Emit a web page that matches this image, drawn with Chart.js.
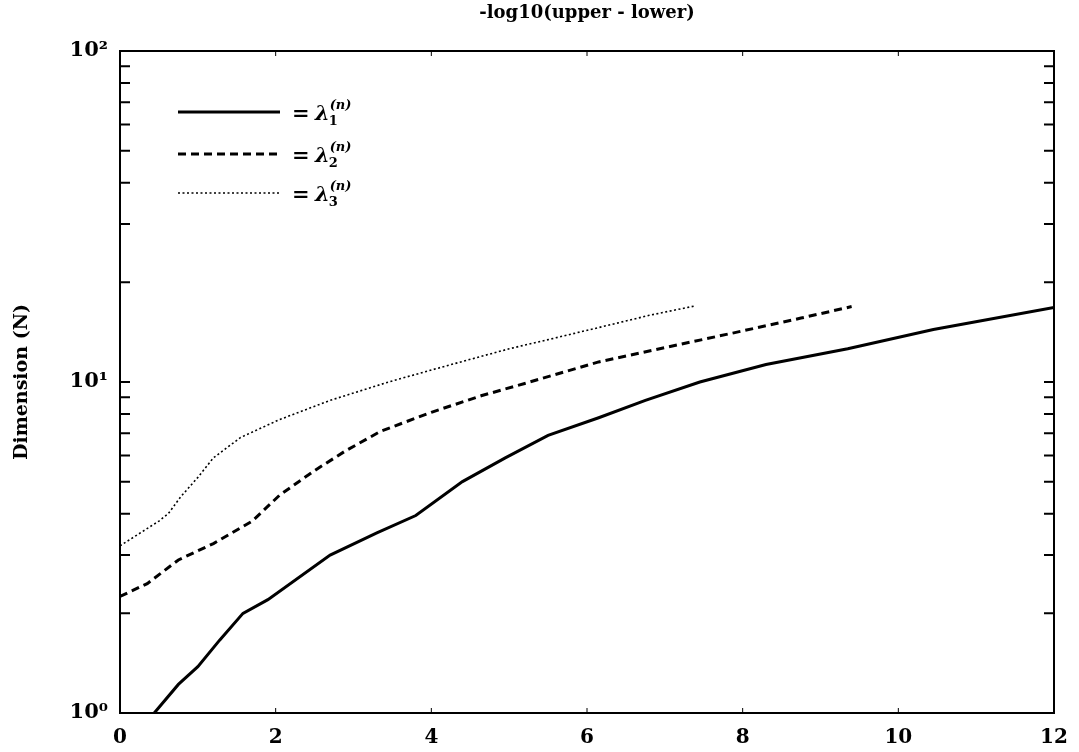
<!DOCTYPE html>
<html>
<head>
<meta charset="utf-8">
<script src="https://cdn.jsdelivr.net/npm/chart.js@4.4.1/dist/chart.umd.min.js"></script>
<style>
  html, body { margin: 0; padding: 0; background: #fff; }
  #wrap { width: 1079px; height: 752px; }
</style>
</head>
<body>
<div id="wrap"><canvas id="c" width="1079" height="752"></canvas></div>
<script>
// ---- data ----
const lambda1X = [0.44, 0.75, 1.0, 1.28, 1.58, 1.9, 2.7, 3.3, 3.8, 4.4, 4.95, 5.5, 6.15, 6.75, 7.45, 8.3, 9.35, 10.45, 12.0];
const lambda1Y = [1.0, 1.22, 1.38, 1.66, 2.0, 2.2, 3.0, 3.5, 3.95, 5.0, 5.9, 6.9, 7.8, 8.8, 10.0, 11.3, 12.6, 14.4, 16.8];

const lambda2X = [0, 0.35, 0.75, 1.2, 1.7, 2.05, 2.5, 2.9, 3.35, 4.0, 4.65, 5.2, 6.15, 7.0, 7.9, 8.75, 9.4];
const lambda2Y = [2.25, 2.46, 2.9, 3.25, 3.8, 4.55, 5.4, 6.2, 7.1, 8.1, 9.1, 9.9, 11.5, 12.7, 14.1, 15.6, 16.9];

const lambda3X = [0, 0.5, 0.62, 0.78, 1.0, 1.2, 1.55, 2.05, 2.7, 3.45, 4.2, 5.0, 5.6, 6.2, 6.8, 7.4];
const lambda3Y = [3.2, 3.8, 4.0, 4.5, 5.15, 5.9, 6.8, 7.7, 8.8, 10.0, 11.2, 12.6, 13.6, 14.7, 15.9, 17.0];

const seriesSubscripts = ['1', '2', '3'];
const xTickValues = [0, 2, 4, 6, 8, 10, 12];
const yTickValues = [1, 10, 100];
const yTickLabels = ['10\u2070', '10\u00B9', '10\u00B2'];
const titleText = '-log10(upper - lower)';
const yTitleText = 'Dimension (N)';

function pts(xs, ys) { return xs.map((x, i) => ({ x: x, y: ys[i] })); }

const FONT = "'DejaVu Serif', serif";

const framePlugin = {
  id: 'frame',
  afterDatasetsDraw(chart) {
    const ctx = chart.ctx;
    const a = chart.chartArea;
    const xs = chart.scales.x, ys = chart.scales.y;
    ctx.save();
    ctx.strokeStyle = '#000';
    // frame
    ctx.lineWidth = 2;
    ctx.strokeRect(a.left, a.top, a.right - a.left, a.bottom - a.top);
    // y ticks (major + minor), inward, both sides
    ctx.lineWidth = 2;
    for (let d = 1; d < 100; d *= 10) {
      for (let m = 1; m <= 9; m++) {
        const v = d * m;
        if (v === 1) continue;
        const py = ys.getPixelForValue(v);
        ctx.beginPath();
        ctx.moveTo(a.left, py); ctx.lineTo(a.left + 10, py);
        ctx.moveTo(a.right, py); ctx.lineTo(a.right - 10, py);
        ctx.stroke();
      }
    }
    // x ticks inward top/bottom
    ctx.lineWidth = 1;
    xTickValues.forEach(v => {
      if (v === xs.min || v === xs.max) return;
      const px = xs.getPixelForValue(v);
      ctx.beginPath();
      ctx.moveTo(px, a.bottom); ctx.lineTo(px, a.bottom - 5);
      ctx.moveTo(px, a.top); ctx.lineTo(px, a.top + 5);
      ctx.stroke();
    });
    // legend
    const lx0 = a.left + 58, lx1 = a.left + 160;
    const rows = [a.top + 61, a.top + 103, a.top + 142];
    chart.data.datasets.forEach((ds, i) => {
      const y = rows[i];
      ctx.save();
      ctx.lineWidth = ds.borderWidth;
      ctx.setLineDash(ds.borderDash || []);
      ctx.beginPath();
      ctx.moveTo(lx0, y); ctx.lineTo(lx1, y);
      ctx.stroke();
      ctx.restore();
      ctx.fillStyle = '#000';
      ctx.textBaseline = 'alphabetic';
      ctx.textAlign = 'left';
      ctx.font = "bold 21px " + FONT;
      let tx = lx1 + 12;
      const base = y + 8;
      ctx.fillText('=', tx, base);
      tx += ctx.measureText('= ').width - 2;
      ctx.font = "italic bold 21px " + FONT;
      ctx.fillText('\u03BB', tx, base);
      tx += ctx.measureText('\u03BB').width;
      ctx.font = "bold 13px " + FONT;
      ctx.fillText(seriesSubscripts[i], tx - 1, base + 5);
      ctx.font = "italic bold 13px " + FONT;
      ctx.fillText('(n)', tx, base - 11);
    });
    ctx.restore();
  }
};

new Chart(document.getElementById('c'), {
  type: 'line',
  data: {
    datasets: [
      { label: '\u03BB1(n)', data: pts(lambda1X, lambda1Y), borderColor: '#000', borderWidth: 3, pointRadius: 0, tension: 0, fill: false },
      { label: '\u03BB2(n)', data: pts(lambda2X, lambda2Y), borderColor: '#000', borderWidth: 3, borderDash: [8, 5], pointRadius: 0, tension: 0, fill: false },
      { label: '\u03BB3(n)', data: pts(lambda3X, lambda3Y), borderColor: '#000', borderWidth: 1.6, borderDash: [2, 2.5], pointRadius: 0, tension: 0, fill: false }
    ]
  },
  options: {
    responsive: false,
    animation: false,
    events: [],
    layout: { padding: { left: 0, right: 25, top: 0, bottom: 0 } },
    plugins: {
      legend: { display: false },
      tooltip: { enabled: false },
      title: {
        display: true,
        text: titleText,
        fullSize: false,
        color: '#000',
        font: { family: FONT, size: 18, weight: 'bold' },
        padding: { top: 3, bottom: 26.4 }
      }
    },
    scales: {
      x: {
        type: 'linear',
        min: 0, max: 12,
        grid: { display: false },
        border: { display: false },
        afterBuildTicks(scale) { scale.ticks = xTickValues.map(v => ({ value: v })); },
        afterFit(scale) { scale.height = 39; },
        ticks: {
          color: '#000',
          padding: 5,
          maxRotation: 0,
          font: { family: FONT, size: 20, weight: 'bold' }
        }
      },
      y: {
        type: 'logarithmic',
        min: 1, max: 100,
        grid: { display: false },
        border: { display: false },
        afterBuildTicks(scale) { scale.ticks = yTickValues.map(v => ({ value: v })); },
        afterFit(scale) { scale.width = 120; },
        ticks: {
          color: '#000',
          padding: 4,
          font: { family: FONT, size: 21, weight: 'bold' },
          callback(value) {
            const i = yTickValues.indexOf(value);
            return i >= 0 ? yTickLabels[i] : '';
          }
        },
        title: {
          display: true,
          text: yTitleText,
          color: '#000',
          font: { family: FONT, size: 19, weight: 'bold' },
          padding: { top: 11, bottom: 0 }
        }
      }
    }
  },
  plugins: [framePlugin]
});
</script>
</body>
</html>
